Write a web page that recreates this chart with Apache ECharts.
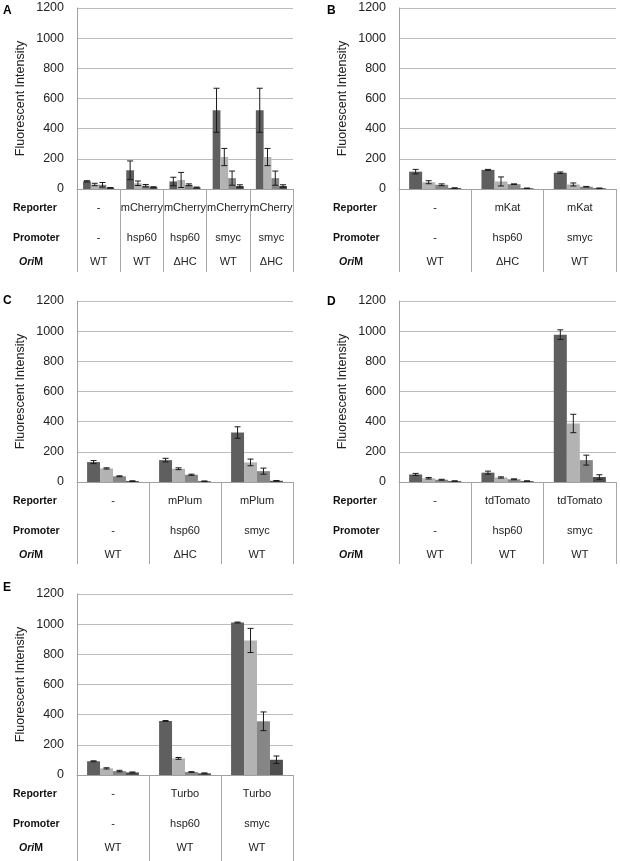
<!DOCTYPE html>
<html>
<head>
<meta charset="utf-8">
<script src="https://cdn.jsdelivr.net/npm/echarts@6/dist/echarts.min.js"></script>
<style>
html,body{margin:0;padding:0;background:#fff;}
#chart{width:620px;height:861px;}
</style>
</head>
<body>
<div id="chart"></div>
<script>
// ---------- DATA ----------
const seriesNames = ['S1', 'S2', 'S3', 'S4'];
const yTicks = [0, 200, 400, 600, 800, 1000, 1200];
const rowLabels = ['Reporter', 'Promoter', 'OriM'];
const panelLetters = ['A', 'B', 'C', 'D', 'E'];

const reporterA = ['-', 'mCherry', 'mCherry', 'mCherry', 'mCherry'];
const promoterA = ['-', 'hsp60', 'hsp60', 'smyc', 'smyc'];
const oriA = ['WT', 'WT', '\u0394HC', 'WT', '\u0394HC'];
const meanA = [[51, 124, 50, 522, 522], [30, 38, 60, 212, 212], [28, 22, 28, 72, 72], [8, 12, 10, 20, 20]];
const errA = [[4, 62, 28, 146, 146], [8, 15, 50, 57, 57], [15, 8, 6, 47, 47], [2, 3, 3, 8, 8]];

const reporterB = ['-', 'mKat', 'mKat'];
const promoterB = ['-', 'hsp60', 'smyc'];
const oriB = ['WT', '\u0394HC', 'WT'];
const meanB = [[115, 127, 108], [45, 50, 30], [28, 32, 15], [6, 5, 5]];
const errB = [[15, 3, 5], [10, 30, 10], [6, 2, 2], [2, 1, 1]];

const reporterC = ['-', 'mPlum', 'mPlum'];
const promoterC = ['-', 'hsp60', 'smyc'];
const oriC = ['WT', '\u0394HC', 'WT'];
const meanC = [[132, 145, 328], [90, 88, 130], [38, 48, 72], [6, 5, 8]];
const errC = [[10, 12, 38], [4, 6, 22], [3, 4, 20], [2, 2, 2]];

const reporterD = ['-', 'tdTomato', 'tdTomato'];
const promoterD = ['-', 'hsp60', 'smyc'];
const oriD = ['WT', 'WT', 'WT'];
const meanD = [[50, 62, 977], [25, 30, 388], [15, 18, 145], [6, 6, 33]];
const errD = [[7, 10, 32], [5, 4, 61], [3, 3, 33], [2, 2, 15]];

const reporterE = ['-', 'Turbo', 'Turbo'];
const promoterE = ['-', 'hsp60', 'smyc'];
const oriE = ['WT', 'WT', 'WT'];
const meanE = [[91, 358, 1011], [44, 110, 892], [26, 20, 356], [17, 11, 101]];
const errE = [[3, 3, 3], [4, 6, 80], [5, 2, 62], [3, 3, 25]];

// ---------- LAYOUT / STYLE ----------
const FONT = '"Liberation Sans", Arial, sans-serif';
const barColors = ['#5f5f5f', '#b3b3b3', '#868686', '#4e4e4e'];
const CAT_GAP = 0.28;
const layouts = [
  {left: 77,  width: 216, top: 8,   height: 181, tick: 83, letterX: 3,   letterY: 5,   rowX: 13},
  {left: 399, width: 217, top: 8,   height: 181, tick: 83, letterX: 327, letterY: 5,   rowX: 333},
  {left: 77,  width: 216, top: 301, height: 181, tick: 82, letterX: 3,   letterY: 295, rowX: 13},
  {left: 399, width: 217, top: 301, height: 181, tick: 82, letterX: 327, letterY: 296, rowX: 333},
  {left: 77,  width: 216, top: 594, height: 181, tick: 86, letterX: 3,   letterY: 582, rowX: 13}
];
const panelData = [
  [reporterA, promoterA, oriA, meanA, errA],
  [reporterB, promoterB, oriB, meanB, errB],
  [reporterC, promoterC, oriC, meanC, errC],
  [reporterD, promoterD, oriD, meanD, errD],
  [reporterE, promoterE, oriE, meanE, errE]
];

const grids = [], xAxes = [], yAxes = [], series = [], graphics = [];

panelData.forEach(function (pd, p) {
  const L = layouts[p];
  const rep = pd[0], prom = pd[1], ori = pd[2], mean = pd[3], err = pd[4];
  grids.push({left: L.left, top: L.top, width: L.width, height: L.height, containLabel: false});
  const cats = rep.map(function (r, i) { return r + '|' + prom[i] + '|' + ori[i]; });
  xAxes.push({
    type: 'category', gridIndex: p, data: cats, boundaryGap: true,
    axisLine: {show: true, lineStyle: {color: '#a0a0a0', width: 1}},
    axisTick: {show: true, length: L.tick, interval: 0, lineStyle: {color: '#a8a8a8', width: 1}},
    splitLine: {show: false},
    axisLabel: {
      interval: 0, margin: 8, color: '#222', fontFamily: FONT, fontSize: 11,
      formatter: function (v) {
        const parts = v.split('|');
        return '{r|' + parts[0] + '}\n{p|' + parts[1] + '}\n{o|' + parts[2] + '}';
      },
      rich: {
        r: {lineHeight: 22, fontSize: 11, fontFamily: FONT, color: '#222'},
        p: {lineHeight: 38, fontSize: 11, fontFamily: FONT, color: '#222'},
        o: {lineHeight: 10, fontSize: 11, fontFamily: FONT, color: '#222'}
      }
    }
  });
  yAxes.push({
    type: 'value', gridIndex: p, min: yTicks[0], max: yTicks[yTicks.length - 1], interval: 200,
    name: 'Fluorescent Intensity', nameLocation: 'middle', nameGap: 50, nameRotate: 90,
    nameTextStyle: {fontFamily: FONT, fontSize: 12.5, color: '#222'},
    axisLine: {show: true, lineStyle: {color: '#a0a0a0', width: 1}},
    axisTick: {show: false},
    axisLabel: {margin: 13, fontFamily: FONT, fontSize: 12.5, color: '#222',
      formatter: function (v) { return String(v); }},
    splitLine: {show: true, lineStyle: {color: '#bcbcbc', width: 1}}
  });
  for (let s = 0; s < 4; s++) {
    series.push({
      type: 'bar', name: seriesNames[s], xAxisIndex: p, yAxisIndex: p,
      data: mean[s], barGap: '0%', barCategoryGap: (CAT_GAP * 100) + '%',
      itemStyle: {color: barColors[s]}, animation: false, z: 2
    });
  }
  for (let s = 0; s < 4; s++) {
    const sIdx = s;
    series.push({
      type: 'custom', xAxisIndex: p, yAxisIndex: p, animation: false, z: 5,
      encode: {x: 0, y: [1, 2]},
      data: mean[s].map(function (m, j) { return [j, m - err[s][j], m + err[s][j]]; }),
      renderItem: function (params, api) {
        const j = api.value(0);
        const lo = api.coord([j, api.value(1)]);
        const hi = api.coord([j, api.value(2)]);
        const bw = api.size([1, 0])[0];
        const tot = 1 - CAT_GAP;
        const x = lo[0] + bw * (-tot / 2 + (sIdx + 0.5) * tot / 4);
        const c = 3;
        const st = {stroke: '#1a1a1a', lineWidth: 1};
        return {type: 'group', children: [
          {type: 'line', shape: {x1: x, y1: hi[1], x2: x, y2: lo[1]}, style: st},
          {type: 'line', shape: {x1: x - c, y1: hi[1], x2: x + c, y2: hi[1]}, style: st},
          {type: 'line', shape: {x1: x - c, y1: lo[1], x2: x + c, y2: lo[1]}, style: st}
        ]};
      }
    });
  }
  // panel letter
  graphics.push({type: 'text', x: L.letterX, y: L.letterY,
    style: {text: panelLetters[p], font: 'bold 12px ' + FONT, fill: '#000'}});
  // row headers
  const zeroY = L.top + L.height;
  const rowYs = [zeroY + 19, zeroY + 49, zeroY + 73];
  graphics.push({type: 'text', x: L.rowX, y: rowYs[0],
    style: {text: rowLabels[0], font: 'bold 10.5px ' + FONT, fill: '#111', verticalAlign: 'middle'}});
  graphics.push({type: 'text', x: L.rowX, y: rowYs[1],
    style: {text: rowLabels[1], font: 'bold 10.5px ' + FONT, fill: '#111', verticalAlign: 'middle'}});
  graphics.push({type: 'text', x: L.rowX + 6, y: rowYs[2],
    style: {text: '{i|' + rowLabels[2].slice(0, 3) + '}{b|' + rowLabels[2].slice(3) + '}',
      verticalAlign: 'middle',
      rich: {
        i: {fontFamily: FONT, fontSize: 10.5, fontWeight: 'bold', fontStyle: 'italic', fill: '#111'},
        b: {fontFamily: FONT, fontSize: 10.5, fontWeight: 'bold', fill: '#111'}
      }}});
});

const chart = echarts.init(document.getElementById('chart'), null, {renderer: 'canvas'});
chart.setOption({
  backgroundColor: '#ffffff',
  animation: false,
  grid: grids,
  xAxis: xAxes,
  yAxis: yAxes,
  series: series,
  graphic: graphics
});
</script>
</body>
</html>
